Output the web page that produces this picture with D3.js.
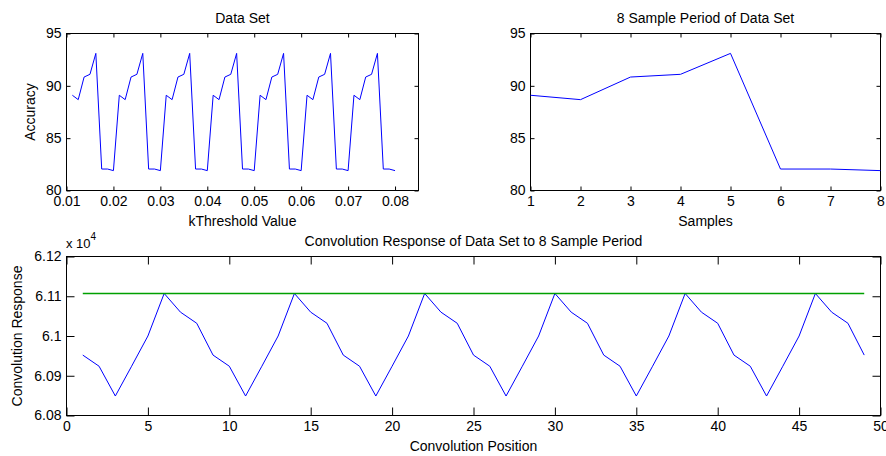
<!DOCTYPE html>
<html lang="en">
<head>
    <meta charset="UTF-8">
    <title>Convolution Response of Data Set</title>
    <script src="https://d3js.org/d3.v7.min.js"></script>
    <style>
        body { margin: 0; background: #fff; }
        svg text {
            font-family: Arial, "Liberation Sans", Helvetica, sans-serif;
            font-size: 14px;
            fill: #000;
        }
        .tick line { stroke: #000; }
        .frame { fill: none; stroke: #000; stroke-width: 1px; }
        .line { fill: none; stroke-width: 1px; stroke-linejoin: round; }
        .level { stroke-width: 1.6px; }
    </style>
</head>
<body>
<svg width="886" height="456"></svg>
<script>
    // data
    const kThreshold = [
        0.01125, 0.0125, 0.01375, 0.015, 0.01625, 0.0175, 0.01875, 0.02,
        0.02125, 0.0225, 0.02375, 0.025, 0.02625, 0.0275, 0.02875, 0.03,
        0.03125, 0.0325, 0.03375, 0.035, 0.03625, 0.0375, 0.03875, 0.04,
        0.04125, 0.0425, 0.04375, 0.045, 0.04625, 0.0475, 0.04875, 0.05,
        0.05125, 0.0525, 0.05375, 0.055, 0.05625, 0.0575, 0.05875, 0.06,
        0.06125, 0.0625, 0.06375, 0.065, 0.06625, 0.0675, 0.06875, 0.07,
        0.07125, 0.0725, 0.07375, 0.075, 0.07625, 0.0775, 0.07875, 0.08
    ];
    const accuracy = [
        89.1, 88.68, 90.84, 91.1, 93.1, 82.05, 82.05, 81.9,
        89.1, 88.68, 90.84, 91.1, 93.1, 82.05, 82.05, 81.9,
        89.1, 88.68, 90.84, 91.1, 93.1, 82.05, 82.05, 81.9,
        89.1, 88.68, 90.84, 91.1, 93.1, 82.05, 82.05, 81.9,
        89.1, 88.68, 90.84, 91.1, 93.1, 82.05, 82.05, 81.9,
        89.1, 88.68, 90.84, 91.1, 93.1, 82.05, 82.05, 81.9,
        89.1, 88.68, 90.84, 91.1, 93.1, 82.05, 82.05, 81.9
    ];

    const samples = [1, 2, 3, 4, 5, 6, 7, 8];
    const periodValues = [89.1, 88.68, 90.84, 91.1, 93.1, 82.05, 82.05, 81.9];

    const positions = [
        1, 2, 3, 4, 5, 6, 7, 8, 9, 10, 11, 12, 13, 14, 15, 16, 17,
        18, 19, 20, 21, 22, 23, 24, 25, 26, 27, 28, 29, 30, 31, 32, 33,
        34, 35, 36, 37, 38, 39, 40, 41, 42, 43, 44, 45, 46, 47, 48, 49
    ];
    const response = [
        60952, 60924, 60849, 60924, 61000, 61107, 61060, 61032,
        60952, 60924, 60849, 60924, 61000, 61107, 61060, 61032,
        60952, 60924, 60849, 60924, 61000, 61107, 61060, 61032,
        60952, 60924, 60849, 60924, 61000, 61107, 61060, 61032,
        60952, 60924, 60849, 60924, 61000, 61107, 61060, 61032,
        60952, 60924, 60849, 60924, 61000, 61107, 61060, 61032,
        60952
    ];
    const peakLevel = 61107;

    const svg = d3.select("svg");

    function drawPanel(opt) {
        const x = d3.scaleLinear().domain(opt.xDomain).range([opt.left, opt.right]);
        const y = d3.scaleLinear().domain(opt.yDomain).range([opt.bottom, opt.top]);
        const g = svg.append("g");
        const tl = opt.tick;

        g.append("g")
            .attr("transform", `translate(0,${opt.bottom})`)
            .call(d3.axisBottom(x).tickValues(opt.xTicks).tickFormat(opt.xFormat)
                .tickSizeInner(-tl).tickSizeOuter(0).tickPadding(6));
        g.append("g")
            .attr("transform", `translate(0,${opt.top})`)
            .call(d3.axisTop(x).tickValues(opt.xTicks).tickFormat("")
                .tickSizeInner(-tl).tickSizeOuter(0));
        g.append("g")
            .attr("transform", `translate(${opt.left},0)`)
            .call(d3.axisLeft(y).tickValues(opt.yTicks).tickFormat(opt.yFormat)
                .tickSizeInner(-tl).tickSizeOuter(0).tickPadding(5));
        g.append("g")
            .attr("transform", `translate(${opt.right},0)`)
            .call(d3.axisRight(y).tickValues(opt.yTicks).tickFormat("")
                .tickSizeInner(-tl).tickSizeOuter(0));

        g.selectAll(".domain").remove();
        g.selectAll(".tick text")
            .style("font-family", "Arial, 'Liberation Sans', sans-serif")
            .style("font-size", "14px")
            .attr("fill", "#000");

        g.append("rect").attr("class", "frame")
            .attr("x", opt.left).attr("y", opt.top)
            .attr("width", opt.right - opt.left)
            .attr("height", opt.bottom - opt.top);

        const line = d3.line().x(d => x(d[0])).y(d => y(d[1]));
        opt.series.forEach(s => {
            g.append("path").attr("class", "line " + (s.cls || ""))
                .style("stroke", s.color)
                .attr("d", line(d3.zip(s.x, s.y)));
        });

        g.append("text")
            .attr("x", (opt.left + opt.right) / 2).attr("y", opt.top - 11)
            .attr("text-anchor", "middle").text(opt.title);
        g.append("text")
            .attr("x", (opt.left + opt.right) / 2).attr("y", opt.xLabelY)
            .attr("text-anchor", "middle").text(opt.xLabel);
        if (opt.yLabel) {
            g.append("text")
                .attr("transform", `translate(${opt.yLabelX},${(opt.top + opt.bottom) / 2}) rotate(-90)`)
                .attr("text-anchor", "middle").text(opt.yLabel);
        }
        return g;
    }

    drawPanel({
        left: 66.5, right: 418.5, top: 33.5, bottom: 190.5,
        xDomain: [0.01, 0.085], yDomain: [80, 95],
        xTicks: [0.01, 0.02, 0.03, 0.04, 0.05, 0.06, 0.07, 0.08],
        yTicks: [80, 85, 90, 95],
        xFormat: d3.format(".2f"), yFormat: d3.format("d"),
        tick: 4,
        series: [{ x: kThreshold, y: accuracy, color: "#0000ff" }],
        title: "Data Set", xLabel: "kThreshold Value", xLabelY: 226,
        yLabel: "Accuracy", yLabelX: 35
    });

    drawPanel({
        left: 530.5, right: 880.5, top: 33.5, bottom: 190.5,
        xDomain: [1, 8], yDomain: [80, 95],
        xTicks: samples,
        yTicks: [80, 85, 90, 95],
        xFormat: d3.format("d"), yFormat: d3.format("d"),
        tick: 4,
        series: [{ x: samples, y: periodValues, color: "#0000ff" }],
        title: "8 Sample Period of Data Set", xLabel: "Samples", xLabelY: 226
    });

    const conv = drawPanel({
        left: 66.5, right: 880.5, top: 256.5, bottom: 415.5,
        xDomain: [0, 50], yDomain: [60800, 61200],
        xTicks: [0, 5, 10, 15, 20, 25, 30, 35, 40, 45, 50],
        yTicks: [60800, 60900, 61000, 61100, 61200],
        xFormat: d3.format("d"), yFormat: d => String(+(d / 1e4).toFixed(2)),
        tick: 8,
        series: [
            { x: positions, y: response, color: "#0000ff" },
            { x: [positions[0], positions[positions.length - 1]], y: [peakLevel, peakLevel],
              color: "#00a000", cls: "level" }
        ],
        title: "Convolution Response of Data Set to 8 Sample Period",
        xLabel: "Convolution Position", xLabelY: 451,
        yLabel: "Convolution Response", yLabelX: 22
    });

    // exponent label of the y axis
    const expo = conv.append("text").attr("x", 66).attr("y", 248);
    expo.append("tspan").style("font-size", "13px").text("x 10");
    expo.append("tspan").attr("dy", -8).style("font-size", "10px").text("4");
</script>
</body>
</html>
